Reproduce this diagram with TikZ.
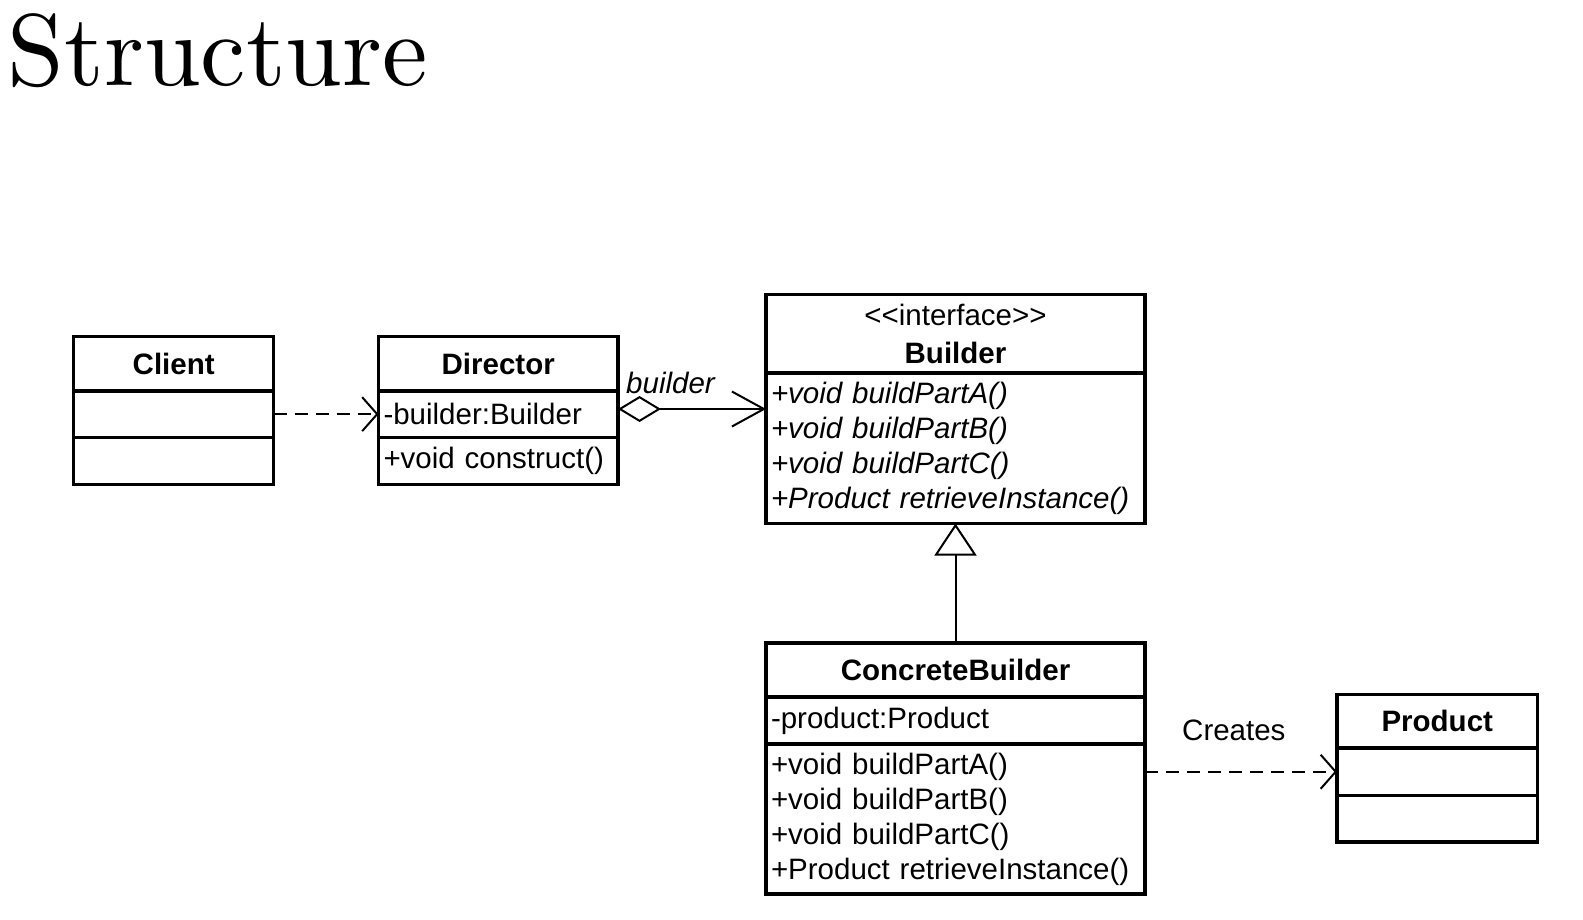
\documentclass[tikz,border=0pt]{standalone}
\usepackage{fontspec}
\newfontfamily\umlsans{Liberation Sans}
\newfontfamily\titlefont{lmroman10-regular.otf}
\usetikzlibrary{arrows.meta,calc}
\begin{document}
\begin{tikzpicture}[x=1pt,y=-1pt,
  umlfont/.style={font=\umlsans\fontsize{29.5}{35}\selectfont},
  comp/.style={draw, rectangle, line width=3.5pt, inner xsep=5pt, inner ysep=0pt,
    outer sep=0pt, anchor=north west, umlfont},
  conn/.style={line width=2pt},
  dep/.style={conn, dash pattern=on 13pt off 8pt, -{Straight Barb[length=15pt,width=34pt]}},
  assoc/.style={conn, {Diamond[open,length=43pt,width=26pt]}-{Straight Barb[length=32pt,width=35pt]}},
  gen/.style={conn, -{Triangle[open,length=32pt,width=42pt]}},
  lbl/.style={umlfont, anchor=base west, inner sep=0pt}]
\useasboundingbox (0,0) rectangle (1583,919);

% title
\node[anchor=base west, inner sep=0pt, font=\titlefont\fontsize{102}{110}\selectfont] (title) at (7.5,85) {Structure};

% Client
\node[comp, minimum width=200pt, text width=190pt, minimum height=54.5pt, align=center] (c1) at (73.7,336.5) {\bfseries Client};
\node[comp, minimum width=200pt, text width=190pt, minimum height=46.3pt] (c2) at (c1.south west) {};
\node[comp, minimum width=200pt, text width=190pt, minimum height=47pt] (c3) at (c2.south west) {};

% Director
\node[comp, minimum width=239.5pt, text width=229.5pt, minimum height=54.5pt, align=center] (d1) at (378.5,336.5) {\bfseries Director};
\node[comp, minimum width=239.5pt, text width=229.5pt, minimum height=46.3pt, align=left] (d2) at (d1.south west) {-builder:Builder};
\node[comp, minimum width=239.5pt, text width=229.5pt, minimum height=47pt, align=left] (d3) at (d2.south west) {+void construct()};

% Builder
\node[comp, minimum width=379pt, text width=369pt, minimum height=78.5pt, align=center] (b1) at (766,294.5) {<<interface>>\\[3pt]\bfseries Builder};
\node[comp, minimum width=379pt, text width=369pt, minimum height=150.5pt, align=left] (b2) at (b1.south west)
  {\itshape +void buildPartA()\\+void buildPartB()\\+void buildPartC()\\+Product retrieveInstance()};

% ConcreteBuilder
\node[comp, minimum width=379pt, text width=369pt, minimum height=54pt, align=center] (cb1) at (766,643) {\bfseries ConcreteBuilder};
\node[comp, minimum width=379pt, text width=369pt, minimum height=47pt, align=left] (cb2) at (cb1.south west) {-product:Product};
\node[comp, minimum width=379pt, text width=369pt, minimum height=150pt, align=left] (cb3) at (cb2.south west)
  {+void buildPartA()\\+void buildPartB()\\+void buildPartC()\\+Product retrieveInstance()};

% Product
\node[comp, minimum width=200.5pt, text width=190.5pt, minimum height=53.5pt, align=center] (p1) at (1337,694.5) {\bfseries Product};
\node[comp, minimum width=200.5pt, text width=190.5pt, minimum height=47.5pt] (p2) at (p1.south west) {};
\node[comp, minimum width=200.5pt, text width=190.5pt, minimum height=46.5pt] (p3) at (p2.south west) {};

% connectors
\draw[dep] (c2.east) -- (d2.west);

\coordinate (bw) at ($(b1.north west)!0.5!(b2.south west)$);
\draw[assoc] (d2.east |- bw) -- (bw);
\node[lbl] (builderlbl) at (626,393) {\itshape builder};

\draw[gen] (cb1.north) -- (b2.south);

\draw[dep] (cb3.east |- p2.west) -- (p2.west);
\node[lbl] (createslbl) at (1182,740) {Creates};
\end{tikzpicture}
\end{document}
